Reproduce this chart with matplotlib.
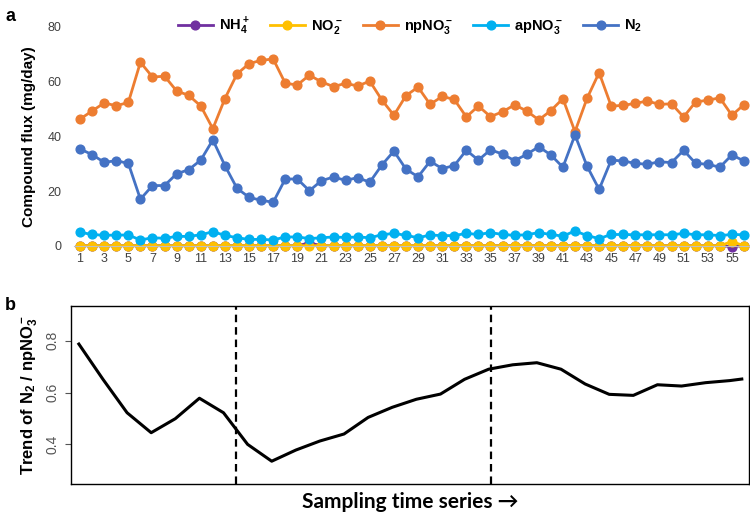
import numpy as np
import matplotlib
matplotlib.use("Agg")
import matplotlib.pyplot as plt

plt.rcParams['font.family'] = ['Liberation Sans', 'DejaVu Sans']
plt.rcParams['mathtext.fontset'] = 'custom'
plt.rcParams['mathtext.rm'] = 'Liberation Sans'
plt.rcParams['mathtext.bf'] = 'Liberation Sans:bold'
plt.rcParams['mathtext.default'] = 'bf'

# 采样序号
samples = np.arange(1, 57)

nh4 = [0, 0, 0, 0, 0, 0, 0, 0, 0, 0, 0, 0, 0, 0, 0, 0, 0, 0, 0, 1.0,
       0, 0, 0, 0, 0, 0, 0, 0, 0, 0, 0, 0, 0, 0, 0, 0, 0, 0, 0, 0,
       0, 0, 0, 0, 0, 0, 0, 0, 0, 0, 0, 0, 0, 0, -0.3, 0]
no2 = [0, 0, 0, 0, 0, 0, 0, 0, 0, 0, 0, 0, 0, 0, 0, 0, 0, 0, 0, 0,
       0, 0, 0, 0, 0, 0, 0, 0, 0, 0, 0, 0, 0, 0, 0, 0, 0, 0, 0, 0,
       0, 0, 0, 0, 0, 0, 0, 0, 0, 0, 0, 0, 0, 0, 1.5, 0]
np_no3 = [46.3, 49.3, 52.2, 51.2, 52.4, 67.1, 61.7, 62.0, 56.6, 55.0,
          51.1, 42.8, 53.8, 62.8, 66.6, 67.8, 68.3, 59.4, 58.8, 62.4,
          59.9, 58.2, 59.4, 58.4, 60.2, 53.3, 47.7, 54.9, 58.0, 51.7,
          54.6, 53.5, 47.1, 51.1, 47.2, 49.0, 51.5, 49.3, 46.0, 49.4,
          53.8, 41.7, 53.9, 63.3, 51.1, 51.3, 52.1, 52.9, 51.7, 51.9,
          47.1, 52.6, 53.2, 54.1, 47.7, 51.6]
ap_no3 = [4.9, 4.1, 3.8, 3.9, 3.9, 2.1, 2.9, 2.7, 3.4, 3.4,
          4.0, 5.1, 3.8, 2.9, 2.3, 2.3, 2.1, 3.2, 3.2, 2.6,
          2.9, 3.2, 3.0, 3.2, 2.9, 4.0, 4.5, 3.8, 2.9, 3.9,
          3.7, 3.7, 4.5, 4.1, 4.8, 4.1, 3.8, 4.0, 4.8, 4.1,
          3.5, 5.4, 3.7, 2.6, 4.1, 4.1, 4.0, 4.0, 4.0, 4.0,
          4.5, 4.0, 4.0, 3.7, 4.1, 4.0]
n2 = [35.4, 33.3, 30.5, 31.1, 30.1, 17.0, 22.0, 22.0, 26.3, 27.8,
      31.3, 38.7, 29.3, 21.0, 17.7, 16.6, 15.9, 24.4, 24.4, 20.1,
      23.8, 25.1, 23.9, 24.9, 23.2, 29.5, 34.6, 28.0, 25.2, 30.9,
      28.2, 29.3, 34.9, 31.3, 35.1, 33.5, 31.1, 33.4, 36.2, 33.2,
      28.7, 40.5, 29.1, 20.6, 31.3, 31.0, 30.1, 29.8, 30.7, 30.4,
      34.9, 30.1, 29.8, 28.7, 33.2, 31.0]

series_names = [r'NH$_4^+$', r'NO$_2^-$', r'npNO$_3^-$', r'apNO$_3^-$', r'N$_2$']
series_colors = ['#7030A0', '#FFC000', '#ED7D31', '#00B0F0', '#4472C4']

# 趋势曲线 (b)
trend_x = [1, 3, 5, 7, 9, 11, 13, 15, 17, 19, 21, 23, 25, 27, 29,
           31, 33, 35, 37, 39, 41, 43, 45, 47, 49, 51, 53, 55, 56]
trend_y = [0.787, 0.651, 0.522, 0.445, 0.499, 0.578, 0.522, 0.400, 0.335, 0.378,
           0.413, 0.440, 0.504, 0.543, 0.574, 0.594, 0.651, 0.690, 0.707, 0.715,
           0.690, 0.633, 0.593, 0.589, 0.630, 0.625, 0.638, 0.646, 0.652]
breaks = [14, 35.2]

fig = plt.figure(figsize=(7.5, 5.19), dpi=100)

# ---- panel a ----
ax1 = fig.add_axes([0.0987, 0.5266, 0.9013, 0.4214])
series = [nh4, no2, np_no3, ap_no3, n2]
for vals, name, c in zip(series, series_names, series_colors):
    ax1.plot(samples, vals, color=c, lw=2.0, marker='o', ms=6.3,
             label=name, clip_on=False)
ax1.set_xlim(0.5, 56.5)
ax1.set_ylim(0, 80)
ax1.set_yticks([0, 20, 40, 60, 80])
ax1.set_xticks(samples[::2])
for s in ['top', 'right', 'left']:
    ax1.spines[s].set_visible(False)
ax1.spines['bottom'].set_color('#BFBFBF')
ax1.tick_params(axis='both', length=0, labelsize=9, colors='#404040')
ax1.tick_params(axis='x', pad=5)
ax1.tick_params(axis='y', pad=9)
ax1.set_ylabel('Compound flux (mg/day)', fontsize=11, fontweight='bold', labelpad=8)
ax1.legend(loc='center', bbox_to_anchor=(0.497, 1.005), ncol=5, frameon=False,
           prop={'weight': 'bold', 'size': 10.5}, handlelength=2.4,
           columnspacing=1.4, handletextpad=0.4)

# ---- panel b ----
ax2 = fig.add_axes([0.0947, 0.0674, 0.904, 0.3436])
ax2.plot(trend_x, trend_y, color='black', lw=2.2)
for b in breaks:
    ax2.axvline(b, color='black', lw=1.6, linestyle=(0, (3.4, 2.2)))
ax2.set_xlim(0.35, 56.6)
ax2.set_ylim(0.247, 0.935)
ax2.set_xticks([])
ax2.set_yticks([0.4, 0.6, 0.8])
ax2.set_yticklabels(['0.4', '0.6', '0.8'], rotation=90, va='center')
ax2.tick_params(axis='y', length=4, labelsize=10, colors='#555555', pad=4)
for s in ax2.spines.values():
    s.set_linewidth(1.0)
ax2.set_ylabel(r'Trend of N$_2$ / npNO$_3^-$', fontsize=12, fontweight='bold', labelpad=4)
ax2.set_xlabel('Sampling time series \u2192', fontsize=15, fontweight='bold',
               family=['Lato', 'DejaVu Sans'], labelpad=6)

fig.text(0.007, 0.985, 'a', fontsize=13, fontweight='bold', va='top')
fig.text(0.007, 0.427, 'b', fontsize=13, fontweight='bold', va='top')

fig.savefig('out.png', dpi=100)
